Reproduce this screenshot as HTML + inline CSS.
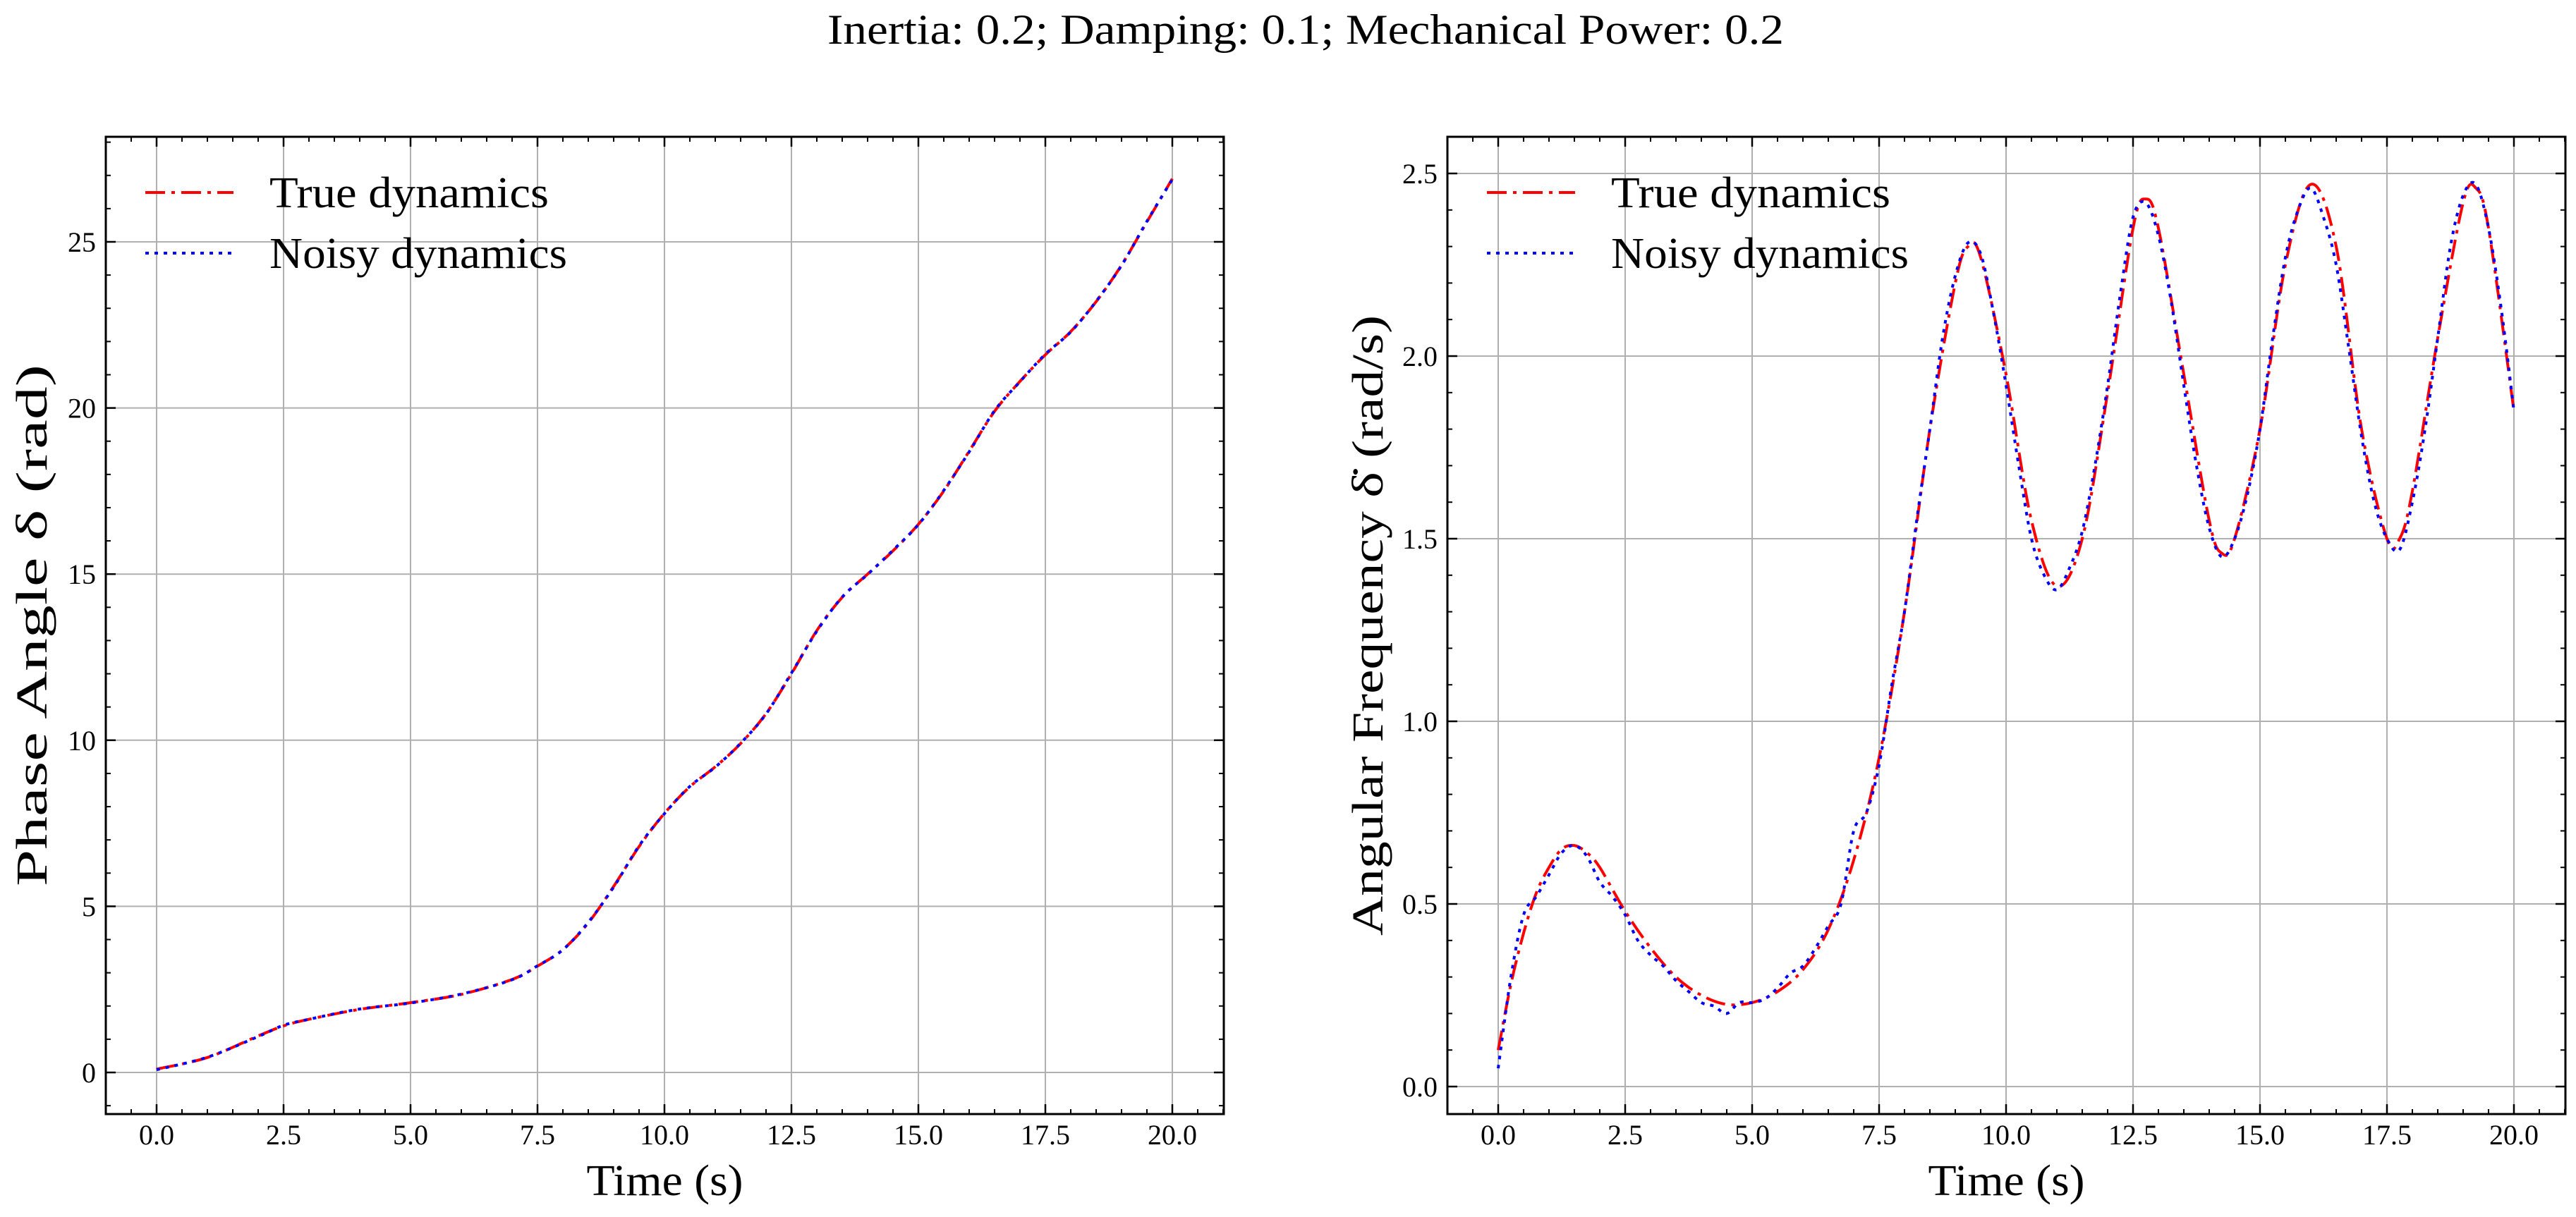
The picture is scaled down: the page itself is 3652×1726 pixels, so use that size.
<!DOCTYPE html>
<html><head><meta charset="utf-8"><style>
html,body{margin:0;padding:0;background:#fff}
svg{display:block}
text{font-family:"Liberation Serif",serif;fill:#000}
</style></head><body>
<svg id="fig" width="3652" height="1726" viewBox="0 0 3652 1726" xmlns="http://www.w3.org/2000/svg">
<text x="1851" y="62" font-size="60" text-anchor="middle" textLength="1356" lengthAdjust="spacingAndGlyphs">Inertia: 0.2; Damping: 0.1; Mechanical Power: 0.2</text>
<g id="left"></g>
<g id="right"></g>
</svg>
<script>
// ---- data ----
const phaseTimes = [0,1,2,2.5,3,4,5,6,7,7.5,8,8.5,9,9.5,10,10.5,11,11.5,12,12.5,13,13.5,14,14.5,15,15.5,16,16.5,17,17.5,18,18.5,19,19.5,20];
const phaseTrue = [0.1,0.45,1.1,1.4,1.6,1.9,2.1,2.35,2.8,3.2,3.7,4.5,5.6,6.8,7.8,8.6,9.2,9.9,10.8,12.0,13.3,14.3,15.0,15.7,16.5,17.5,18.7,19.9,20.8,21.6,22.3,23.2,24.3,25.6,26.9];
const phaseNoisy = [0.08,0.46,1.08,1.42,1.6,1.91,2.09,2.36,2.79,3.21,3.69,4.52,5.58,6.82,7.79,8.61,9.19,9.91,10.79,12.02,13.28,14.31,14.99,15.72,16.49,17.52,18.68,19.92,20.79,21.62,22.29,23.21,24.29,25.62,26.88];
const freqTimes = [0,0.25,0.5,0.75,1,1.25,1.5,1.75,2,2.5,3,3.5,4,4.5,5,5.5,6,6.5,7,7.5,8,8.5,9,9.25,9.5,10,10.5,11,11.5,12,12.5,12.75,13,13.5,14,14.25,14.5,15,15.5,16,16.5,17,17.5,17.75,18,18.5,19,19.25,19.5,20];
const freqTrue = [0.1,0.28,0.42,0.53,0.6,0.65,0.66,0.64,0.6,0.48,0.38,0.3,0.25,0.225,0.23,0.26,0.32,0.43,0.62,0.9,1.3,1.8,2.2,2.3,2.27,1.95,1.55,1.37,1.5,1.9,2.35,2.43,2.35,1.95,1.55,1.46,1.5,1.8,2.25,2.47,2.3,1.8,1.5,1.5,1.63,2.05,2.42,2.46,2.35,1.85];
const noisyTimes = [0,0.25,0.5,0.75,1,1.25,1.5,1.75,2,2.25,2.5,2.75,3,3.25,3.5,3.75,4,4.25,4.5,4.75,5,5.25,5.5,5.75,6,6.25,6.5,6.75,7,7.25,7.5,7.75,8,8.25,8.5,8.75,9,9.25,9.5,9.75,10,10.25,10.5,10.75,11,11.25,11.5,11.75,12,12.25,12.5,12.75,13,13.25,13.5,13.75,14,14.25,14.5,14.75,15,15.25,15.5,15.75,16,16.25,16.5,16.75,17,17.25,17.5,17.75,18,18.25,18.5,18.75,19,19.25,19.5,19.75,20];
const freqNoisy = [0.05,0.3,0.47,0.52,0.58,0.64,0.66,0.63,0.56,0.52,0.47,0.4,0.36,0.33,0.29,0.26,0.23,0.22,0.2,0.23,0.23,0.24,0.27,0.31,0.33,0.38,0.44,0.5,0.7,0.75,0.88,1.1,1.3,1.56,1.8,2.05,2.22,2.31,2.28,2.12,1.92,1.7,1.5,1.4,1.36,1.42,1.52,1.7,1.92,2.17,2.38,2.42,2.33,2.15,1.92,1.7,1.53,1.45,1.5,1.62,1.8,2.05,2.27,2.4,2.46,2.38,2.25,2.02,1.78,1.6,1.5,1.47,1.6,1.8,2.05,2.3,2.44,2.47,2.35,2.13,1.85];
const xTicks = [0,2.5,5,7.5,10,12.5,15,17.5,20];
const xTickLabels = ["0.0","2.5","5.0","7.5","10.0","12.5","15.0","17.5","20.0"];
const leftYTicks = [0,5,10,15,20,25];
const leftYTickLabels = ["0","5","10","15","20","25"];
const rightYTicks = [0,0.5,1,1.5,2,2.5];
const rightYTickLabels = ["0.0","0.5","1.0","1.5","2.0","2.5"];

const NS="http://www.w3.org/2000/svg";
function mk(parent,tag,attrs){const e=document.createElementNS(NS,tag);for(const k in attrs)e.setAttribute(k,attrs[k]);parent.appendChild(e);return e;}
function smoothPath(pts){
  let d="M"+pts[0][0].toFixed(1)+","+pts[0][1].toFixed(1);
  for(let i=0;i<pts.length-1;i++){
    const p0=pts[Math.max(0,i-1)],p1=pts[i],p2=pts[i+1],p3=pts[Math.min(pts.length-1,i+2)];
    const c1=[p1[0]+(p2[0]-p0[0])/6,p1[1]+(p2[1]-p0[1])/6];
    const c2=[p2[0]-(p3[0]-p1[0])/6,p2[1]-(p3[1]-p1[1])/6];
    d+="C"+c1[0].toFixed(1)+","+c1[1].toFixed(1)+" "+c2[0].toFixed(1)+","+c2[1].toFixed(1)+" "+p2[0].toFixed(1)+","+p2[1].toFixed(1);
  }
  return d;
}
function chart(g,opt){
  const L=opt.left,R=opt.left+1585,T=194,B=1580;
  const x=v=>L+72+v*72;
  const y=v=>opt.y0px+(opt.y1px-opt.y0px)*(v-opt.v0)/(opt.v1-opt.v0);
  xTicks.forEach(t=>{const l=mk(g,"line",{x1:x(t),x2:x(t),y1:T,y2:B,stroke:"#b0b0b0","stroke-width":2});
    
    });
  opt.yTicks.forEach(t=>{const l=mk(g,"line",{x1:L,x2:R,y1:y(t),y2:y(t),stroke:"#b0b0b0","stroke-width":2});
    
    });
  for(let v=-1;v<=21.001;v+=0.5){const px=x(v);if(px<L||px>R)continue;
    mk(g,"line",{x1:px,x2:px,y1:B,y2:B-7,stroke:"#000","stroke-width":2});
    mk(g,"line",{x1:px,x2:px,y1:T,y2:T+7,stroke:"#000","stroke-width":2});}
  for(let v=opt.minorStart;v<=opt.minorEnd+1e-9;v+=opt.minorStep){const py=y(v);if(py<T||py>B)continue;
    mk(g,"line",{x1:L,x2:L+7,y1:py,y2:py,stroke:"#000","stroke-width":2});
    mk(g,"line",{x1:R,x2:R-7,y1:py,y2:py,stroke:"#000","stroke-width":2});}
  xTicks.forEach((t,i)=>{
    mk(g,"line",{x1:x(t),x2:x(t),y1:B,y2:B-14,stroke:"#000","stroke-width":2.5});
    mk(g,"line",{x1:x(t),x2:x(t),y1:T,y2:T+14,stroke:"#000","stroke-width":2.5});
    const tx=mk(g,"text",{x:x(t),y:1623,"font-size":40,"text-anchor":"middle"});tx.textContent=xTickLabels[i];
    
    });
  opt.yTicks.forEach((t,i)=>{
    mk(g,"line",{x1:L,x2:L+14,y1:y(t),y2:y(t),stroke:"#000","stroke-width":2.5});
    mk(g,"line",{x1:R,x2:R-14,y1:y(t),y2:y(t),stroke:"#000","stroke-width":2.5});
    const tx=mk(g,"text",{x:L-14,y:y(t)+14,"font-size":40,"text-anchor":"end"});tx.textContent=opt.yTickLabels[i];
    
    });
  const tp=mk(g,"path",{d:smoothPath(opt.tT.map((t,i)=>[x(t),y(opt.vT[i])])),fill:"none",stroke:"#ff0000","stroke-width":4,"stroke-dasharray":"28 9 5 9"});
  
  
  const np=mk(g,"path",{d:smoothPath(opt.tN.map((t,i)=>[x(t),y(opt.vN[i])])),fill:"none",stroke:"#0000ff","stroke-width":4,"stroke-dasharray":"5 8"});
  
  
  const fr=mk(g,"rect",{x:L,y:T,width:R-L,height:B-T,fill:"none",stroke:"#000","stroke-width":3});
  
  
  const lx=L+56;
  const l1=mk(g,"line",{x1:lx,x2:lx+125,y1:273,y2:273,stroke:"#ff0000","stroke-width":4,"stroke-dasharray":"28 9 5 9"});
  
  
  const t1=mk(g,"text",{x:lx+176,y:294,"font-size":62,textLength:396,lengthAdjust:"spacingAndGlyphs"});t1.textContent="True dynamics";
  
  
  const l2=mk(g,"line",{x1:lx,x2:lx+125,y1:359,y2:359,stroke:"#0000ff","stroke-width":4,"stroke-dasharray":"5 8"});
  
  
  const t2=mk(g,"text",{x:lx+176,y:380,"font-size":62,textLength:422,lengthAdjust:"spacingAndGlyphs"});t2.textContent="Noisy dynamics";
  
  
  const xl=mk(g,"text",{x:(L+R)/2,y:1695,"font-size":62,"text-anchor":"middle",textLength:222,lengthAdjust:"spacingAndGlyphs"});xl.textContent="Time (s)";
  
  
  const yl=mk(g,"text",{x:0,y:0,"font-size":62,"text-anchor":"middle",textLength:opt.ylen,lengthAdjust:"spacingAndGlyphs",transform:"translate("+opt.ylx+",887) rotate(-90)"});yl.textContent=opt.ylabel;
  
  
}
chart(document.getElementById("left"),{left:150,v0:0,v1:25,y0px:1521,y1px:343,yTicks:leftYTicks,yTickLabels:leftYTickLabels,
  minorStart:-1,minorEnd:28,minorStep:1,tT:phaseTimes,vT:phaseTrue,tN:phaseTimes,vN:phaseNoisy,ylx:66,ylen:740,ylabel:"Phase Angle δ (rad)"});
chart(document.getElementById("right"),{left:2052,v0:0,v1:2.5,y0px:1541,y1px:246,yTicks:rightYTicks,yTickLabels:rightYTickLabels,
  minorStart:-0.1,minorEnd:2.6,minorStep:0.1,tT:freqTimes,vT:freqTrue,tN:noisyTimes,vN:freqNoisy,ylx:1960,ylen:880,ylabel:"Angular Frequency δ̇ (rad/s)"});
</script>
</body></html>
